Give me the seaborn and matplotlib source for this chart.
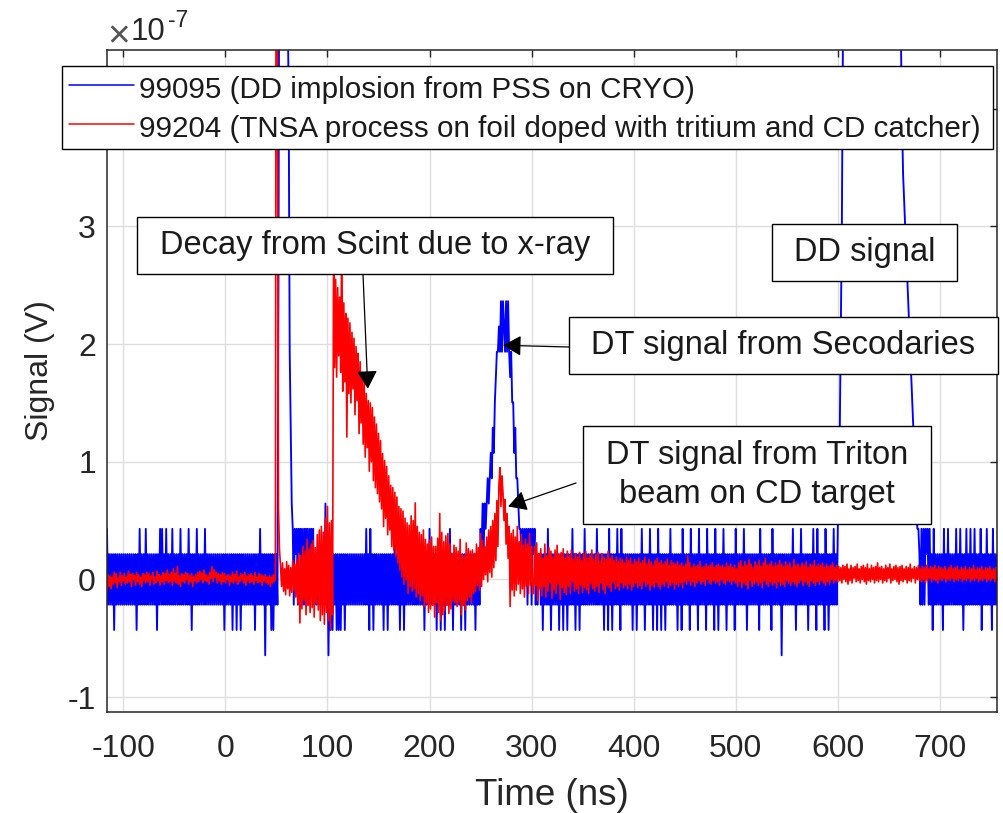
import numpy as np
import pandas as pd
import matplotlib
matplotlib.use("Agg")
import matplotlib.pyplot as plt
import seaborn as sns
from matplotlib.patches import Rectangle
from matplotlib.ticker import FuncFormatter, MultipleLocator

# ---------------------------------------------------------------------------
# Scope records, sampled every 1 ns
# ---------------------------------------------------------------------------
DT_NS = 1.0

# Shot 99095 (DD implosion, PSS on CRYO): raw digitizer counts
BLUE_VOLTS_PER_COUNT = 2.15e-8
blue_starts = [-116, 50, 120, 240, 308, 600, 682]
blue_pre = [2, -1, 1, -1, 1, -1, 1, -2, 1, -1, 1, -1, 1, -1, 1, -1, 1, -1, 1, -1,
            1, -1, 1, -1, 1, -1, 1, -1, 1, -2, 1, -1, 2, -1, 1, -1, 1, -1, 2, -1,
            1, -1, 1, -1, 1, -1, 1, -1, 1, -2, 1, -1, 2, -1, 2, -1, 1, -1, 2, -1,
            1, -1, 1, -1, 2, -1, 1, -1, 1, -1, 1, -1, 2, -1, 1, -1, 1, -1, 1, -1,
            2, -1, 1, -2, 1, -1, 1, -1, 2, -1, 1, -1, 1, -1, 1, -1, 2, -1, 1, -1,
            1, -1, 1, -1, 1, -1, 1, -1, 1, -1, 1, -1, 1, -1, 1, -2, 1, -1, 1, -1,
            1, -1, 1, -2, 1, -1, 1, -2, 1, -1, 1, -2, 1, -1, 1, -1, 1, -1, 1, -1,
            1, -1, 1, -1, 1, -2, 1, -1, 1, -1, 2, -1, 1, -1, 1, -3, 1, -1, 1, -1,
            1, -2, 1, -2, 1, -1]
blue_burst = [1, -1, 12, 30, 32, 33, 33, 32, 31, 29, 28, 23, 19, 9, 6, 3, 2, -1, 2, 1,
              2, -1, 2, 1, 2, -1, 2, -1, 2, 1, 2, -1, 2, -1, 2, 1, 2, -1, 1, -1,
              1, -1, 1, -1, 1, -1, 1, -1, 3, -1, 1, -3, 1, -2, 1, -2, 1, -1, 1, -2,
              1, -2, 1, -2, 1, -1, 1, -2, 1, -1]
blue_quiet = [1, -1, 1, -1, 1, -1, 1, -1, 1, -1, 1, -1, 1, -1, 1, -1, 1, -1, 2, -1,
              1, -2, 2, -1, 1, -2, 1, -1, 1, -1, 1, -1, 1, -1, 1, -2, 1, -1, 1, -2,
              1, -1, 1, -1, 1, -1, 2, -1, 1, -1, 1, -2, 1, -1, 1, -2, 1, -1, 1, -1,
              1, -1, 1, -1, 1, -1, 2, -1, 1, -1, 1, -1, 1, -1, 1, -2, 1, -1, 1, -1,
              2, -1, 1, -1, 1, -1, 1, -2, 1, -1, 1, -2, 1, -1, 1, -2, 1, -1, 1, -1,
              2, -1, 1, -2, 1, -1, 1, -1, 1, -1, 1, -2, 1, -1, 1, -2, 1, -1, 1, -1]
blue_dt = [1, -1, 1, -1, 1, -2, 1, -1, 1, -1, 2, 1, 3, 1, 3, 2, 3, 4, 3, 4,
           5, 4, 6, 5, 7, 8, 9, 9, 10, 9, 11, 9, 11, 10, 9, 11, 9, 11, 9, 8,
           9, 7, 7, 5, 6, 4, 4, 3, 2, 2, 1, 2, 1, 2, 1, 2, -1, 2, 1, 2,
           -1, 2, 1, 2, -1, 1, -1, 1]
blue_mid = [1, -1, 1, -2, 1, -1, 1, -1, 2, -1, 1, -2, 1, -1, 1, -1, 1, -1, 1, -2,
            1, -1, 1, -2, 1, -1, 1, -2, 1, -1, 1, -1, 2, -1, 1, -2, 1, -1, 1, -2,
            1, -1, 1, -1, 2, -1, 1, -1, 1, -1, 1, -1, 1, -1, 1, -1, 2, -1, 1, -1,
            1, -1, 1, -2, 1, -1, 1, -2, 2, -1, 1, -2, 1, -1, 1, -1, 2, -1, 1, -2,
            2, -1, 1, -1, 1, -1, 1, -1, 1, -1, 1, -2, 1, -1, 1, -2, 1, -1, 1, -1,
            2, -1, 1, -2, 1, -1, 1, -1, 2, -1, 1, -2, 1, -1, 1, -2, 2, -1, 1, -2,
            1, -1, 1, -2, 1, -1, 1, -1, 2, -1, 1, -1, 1, -1, 1, -2, 1, -1, 1, -2,
            2, -1, 1, -1, 1, -1, 1, -2, 2, -1, 1, -1, 1, -1, 1, -2, 2, -1, 1, -1,
            1, -1, 1, -2, 2, -1, 1, -1, 1, -1, 1, -2, 2, -1, 1, -2, 1, -1, 1, -1,
            2, -1, 1, -2, 1, -1, 1, -1, 1, -1, 1, -2, 2, -1, 1, -1, 1, -1, 1, -1,
            2, -1, 1, -2, 1, -1, 1, -1, 1, -1, 1, -1, 1, -1, 1, -2, 2, -1, 1, -1,
            1, -1, 1, -1, 1, -1, 1, -2, 2, -1, 1, -1, 1, -1, 1, -1, 1, -3, 1, -1,
            1, -1, 1, -1, 1, -1, 1, -1, 2, -1, 1, -2, 1, -1, 1, -1, 2, -1, 1, -1,
            1, -1, 1, -2, 1, -1, 1, -1, 2, -1, 1, -2, 2, -1, 1, -1, 1, -1, 1, -2,
            2, -1, 1, -2, 1, -1, 1, -1, 2, -1, 1, -1]
blue_dd = [2, 4, 6, 10, 14, 21, 28, 36, 44, 51, 58, 64, 70, 75, 80, 84, 87, 90, 92, 94,
           95, 96, 96, 96, 95, 94, 93, 92, 90, 88, 86, 84, 81, 78, 75, 72, 69, 66, 62, 58,
           55, 52, 49, 46, 43, 40, 38, 36, 34, 32, 30, 29, 28, 27, 26, 25, 24, 24, 23, 23,
           22, 22, 21, 18, 16, 15, 14, 13, 12, 11, 10, 9, 8, 7, 6, 5, 4, 3, 2, 2,
           1, -1]
blue_tail = [2, -1, 2, -1, 2, 1, 2, -1, 2, -1, 1, -2, 2, -1, 1, -1, 1, -1, 1, -1,
             1, -2, 2, -1, 1, -1, 2, -1, 1, -1, 1, -1, 1, -1, 2, -1, 1, -1, 2, -1,
             1, -2, 1, -1, 2, -1, 1, -1, 2, -1, 1, -1, 2, -1, 1, -1, 1, -1, 2, -2,
             1, -1, 1, -1, 2, -1, 1, -1, 1, -2, 2, -1, 1, -1, 1]
blue_segments = [blue_pre, blue_burst, blue_quiet, blue_dt, blue_mid, blue_dd, blue_tail]

# Shot 99204 (TNSA, tritium-doped foil + CD catcher): signal in nV
RED_VOLTS_PER_UNIT = 1e-9
red_starts = [-116, 50, 106, 302]
red_pre = [-9, 4, -6, 3, -8, 2, -4, 6, -3, 5, -7, 1, -2, 6, -5, 3, -1, 5, -4, 2,
           -3, 7, -2, 4, -6, 5, 0, 3, -5, 6, -2, 4, -4, 2, -6, 5, -1, 4, -3, 6,
           -2, 5, -5, 3, 0, 6, -4, 2, -3, 7, -1, 4, -5, 3, -2, 6, -4, 5, -1, 8,
           -3, 4, -2, 6, -5, 9, -1, 5, -3, 11, -4, 3, -6, 5, -2, 4, -3, 6, 0, 5,
           -4, 3, -2, 5, -6, 2, -1, 4, -3, 6, -2, 7, 0, 5, -3, 8, -1, 4, -2, 3,
           -4, 6, 1, 11, -2, 8, 2, 6, -3, 5, -1, 4, -4, 6, -2, 5, -3, 3, 0, 4,
           -5, 3, -2, 6, -3, 4, -1, 7, -4, 2, -2, 5, 0, 4, -3, 6, -5, 3, -1, 4,
           -3, 5, -2, 3, -4, 6, -1, 2, -3, 5, -2, 4, -5, 3, -1, 4, -3, 2, -4, 3,
           -6, 2, -3, 4, -2, 1]
red_spike = [800, 420, 60, 25, 12, -6, 14, -10, 9, -13, 15, -8, 12, -14, 10, -11, 16, -9, 13, -15,
             17, -20, 22, -37, 20, -25, 28, -18, 24, -30, 34, -22, 26, -28, 30, -24, 33, -32, 27, -20,
             38, -26, 42, -35, 45, -30, 40, -38, 52, -28, 62, -35, 48, -42, 50, -30]
red_decay = [290, 180, 255, 172, 248, 190, 240, 176, 300, 160, 235, 168, 226, 121, 222, 158, 218, 150, 210, 162,
             205, 140, 198, 152, 192, 124, 185, 133, 176, 115, 168, 104, 158, 112, 152, 92, 150, 100, 146, 84,
             138, 78, 132, 73, 124, 66, 118, 60, 107, 45, 101, 52, 96, 38, 88, 42, 80, 28, 78, 25,
             74, 20, 70, 14, 62, 8, 60, 2, 58, -4, 52, 0, 48, -12, 46, -6, 54, -10, 50, -8,
             65, -15, 45, -12, 40, -18, 38, -14, 42, -23, 34, -20, 30, -28, 33, -25, 36, -22, 28, -32,
             28, -20, 35, -28, 56, -35, 40, -30, 32, -26, 37, -22, 39, -29, 30, -25, 22, -18, 29, -20,
             27, -23, 24, -19, 34, -30, 21, -22, 20, -26, 31, -18, 26, -15, 24, -20, 25, -12, 22, -10,
             30, -5, 27, -9, 39, -6, 33, 0, 28, 4, 36, -2, 42, 6, 45, 2, 50, 10, 56, 16,
             67, 28, 80, 95, 62, 88, 73, 50, 68, 30, 56, 18, 45, -23, 39, -9, 42, -14, 36, -9,
             45, -4, 32, -12, 38, -8, 29, -15, 34, -6, 30, -12, 39, -5, 28, -12]
red_tail = [-12, 28, -5, 31, -18, 22, -8, 26, -14, 18, -6, 30, -15, 20, -10, 27, -3, 24, -16, 19,
            -9, 25, -12, 29, -4, 21, -17, 23, -7, 26, -11, 18, -13, 24, -6, 20, -12, 25, -2, 17,
            -10, 22, -8, 19, -12, 23, -5, 16, -11, 21, -7, 24, -9, 18, -12, 20, -4, 25, -8, 17,
            -10, 21, -6, 23, -11, 15, -3, 22, -9, 19, -12, 17, -5, 24, -7, 18, -10, 20, -2, 16,
            -8, 19, -6, 15, -9, 18, -3, 17, -7, 14, -5, 19, -8, 16, -4, 18, -9, 13, -6, 17,
            -3, 15, -7, 18, -5, 14, -8, 16, -2, 19, -6, 13, -4, 17, -9, 15, -5, 12, -7, 16,
            -3, 18, -6, 14, -8, 16, -4, 13, -6, 15, -2, 17, -7, 12, -5, 16, -3, 14, -8, 13,
            -4, 15, -6, 12, -3, 14, -7, 11, -2, 13, -4, 20, -1, 14, -5, 10, -2, 13, -6, 11,
            -3, 12, -1, 15, -4, 10, -2, 11, -5, 13, 0, 11, -3, 12, -4, 14, -1, 10, -3, 12,
            -2, 13, -5, 11, 0, 12, -3, 10, -4, 14, -1, 11, -2, 13, -4, 10, -1, 12, -3, 9,
            -6, 14, -2, 16, -7, 11, -3, 15, -5, 12, -8, 17, -1, 13, -6, 10, -4, 15, -2, 12,
            -5, 16, -3, 11, -7, 14, -1, 18, -4, 12, -6, 13, -2, 15, -5, 11, -3, 14, -7, 12,
            -2, 16, -5, 13, -4, 11, -6, 15, -1, 12, -3, 14, -5, 10, -2, 17, -4, 12, -6, 13,
            -3, 11, -1, 14, -5, 12, -2, 15, -4, 10, -6, 13, -1, 12, -3, 16, -5, 11, -2, 13,
            -4, 12, -1, 14, -3, 10, -5, 13, -2, 11, -4, 12, 0, 14, -3, 10, -1, 12, -2, 11,
            -1, 10, -3, 12, 0, 11, -2, 13, -4, 9, -1, 12, -3, 10, 1, 11, -2, 13, -1, 9,
            -3, 11, 0, 12, -2, 10, -4, 13, -1, 9, -2, 12, 0, 10, -3, 11, -1, 14, -2, 10,
            0, 11, -3, 9, -1, 12, -2, 10, 1, 13, -3, 9, -1, 11, 0, 12, -2, 10, -4, 11,
            -1, 12, -2, 9, 0, 11, -3, 10, -1, 13, -2, 9, 1, 11, -3, 10, 0, 12, -1, 9,
            -2, 11, 0, 10, -3, 12, -1, 9, 1, 11, -2, 10, 0, 12, -1, 9, -3, 11, 0, 10,
            -1, 9, 1, 11, -2, 8, 0, 10, -1, 12, 1, 9, -2, 10, 0, 11, -1, 8, 1, 10,
            -2, 9, 0, 11, -1, 8, 1, 10, -2, 9, 0, 12, -1, 8, 1, 10, -2, 9, 0, 11,
            -1, 8, 1, 10, -2, 9, 0, 11, -1, 8, 1, 9, -2, 10, 0]
red_segments = [red_pre, red_spike, red_decay, red_tail]

series_labels = ["99095 (DD implosion from PSS on CRYO)",
                 "99204 (TNSA process on foil doped with tritium and CD catcher)"]
series_colors = ["#0000ff", "#ff0000"]


def assemble(starts, segments, volts_per_unit):
    t = np.concatenate([s + DT_NS * np.arange(len(seg)) for s, seg in zip(starts, segments)])
    v = np.concatenate([np.asarray(seg, dtype=float) for seg in segments]) * volts_per_unit
    return pd.DataFrame({"time": t, "signal": v})


blue_df = assemble(blue_starts, blue_segments, BLUE_VOLTS_PER_COUNT)
red_df = assemble(red_starts, red_segments, RED_VOLTS_PER_UNIT)

# ---------------------------------------------------------------------------
# Figure
# ---------------------------------------------------------------------------
sns.set_theme(style="white")
plt.rcParams["font.family"] = ["Liberation Sans", "DejaVu Sans"]
plt.rcParams["axes.unicode_minus"] = False

W, H = 1004, 813
fig = plt.figure(figsize=(W / 100, H / 100), dpi=100, facecolor="white")


def fx(px):
    return px / W


def fy(py):
    return 1 - py / H


ax = fig.add_axes([fx(107), fy(712), fx(997) - fx(107), fy(50) - fy(712)])

sns.lineplot(data=blue_df, x="time", y="signal", color=series_colors[0], lw=1.35,
             estimator=None, sort=False, label=series_labels[0], ax=ax)
sns.lineplot(data=red_df, x="time", y="signal", color=series_colors[1], lw=1.2,
             estimator=None, sort=False, label=series_labels[1], ax=ax)

Y_EXP = 1e-7
ax.set_xlim(-116, 756)
ax.set_ylim(-1.127e-7, 4.5e-7)
ax.xaxis.set_major_locator(MultipleLocator(100))
ax.yaxis.set_major_locator(MultipleLocator(Y_EXP))
ax.yaxis.set_major_formatter(FuncFormatter(lambda v, pos: f"{v / Y_EXP:g}"))

axis_gray = "#262626"
ax.grid(True, color="#dedede", lw=1.0)
ax.set_axisbelow(True)
for sp in ax.spines.values():
    sp.set_color(axis_gray)
    sp.set_linewidth(1.1)
ax.tick_params(direction="in", length=5, width=1, colors=axis_gray,
               top=True, right=True, labelsize=23)
ax.tick_params(axis="x", pad=16)
ax.tick_params(axis="y", pad=8)

# axis multiplier above the y axis
fig.text(fx(107), fy(47), "\u00d7", fontsize=28, color="#555555", va="baseline")
fig.text(fx(131), fy(40), "10", fontsize=22.5, color=axis_gray, va="baseline")
fig.text(fx(168), fy(27), "-7", fontsize=16.5, color=axis_gray, va="baseline")

ax.set_xlabel("Time (ns)", fontsize=26.5, color=axis_gray)
ax.set_ylabel("Signal (V)", fontsize=23, color=axis_gray)
ax.xaxis.set_label_coords(0.5, (712 - 778) / 662)
ax.yaxis.set_label_coords((55 - 107) / 890, (712 - 371) / 662)

leg = ax.legend(loc="upper left",
                bbox_to_anchor=(fx(62), fy(67), fx(993) - fx(62), 0.001),
                bbox_transform=fig.transFigure, mode="expand", borderaxespad=0,
                fontsize=21.3, frameon=True, fancybox=False, framealpha=1,
                edgecolor="black", borderpad=0.22, labelspacing=0.26,
                handlelength=2.2, handleheight=1.2, handletextpad=0.18)
leg.get_frame().set_linewidth(1.0)
for line in leg.get_lines():
    line.set_linewidth(1.1)
for txt in leg.get_texts():
    txt.set_color("#1a1a1a")
leg.set_zorder(20)

# ---------------------------------------------------------------------------
# Callout boxes with arrows
# ---------------------------------------------------------------------------
callouts = [
    # text, box (x0, y0, x1, y1) in pixels, arrow tail (px), arrow tip (ns, V)
    ("Decay from Scint due to x-ray", (137, 217, 613, 274), (363, 274), (139.5, 1.62e-7)),
    ("DD signal", (772, 224, 957, 281), None, None),
    ("DT signal from Secodaries", (569, 317, 998, 374), (569, 347), (272, 1.99e-7)),
    ("DT signal from Triton\nbeam on CD target", (583, 426, 931, 524), (576, 483), (277, 0.62e-7)),
]

for text, (x0, y0, x1, y1), tail, tip in callouts:
    rect = Rectangle((fx(x0), fy(y1)), fx(x1) - fx(x0), fy(y0) - fy(y1),
                     transform=fig.transFigure, facecolor="white",
                     edgecolor="black", lw=1.0, zorder=5)
    fig.add_artist(rect)
    fig.text(fx((x0 + x1) / 2), fy((y0 + y1) / 2), text, ha="center", va="center",
             multialignment="center", fontsize=23.5, color="#1a1a1a",
             linespacing=1.37, zorder=6)
    if tail is not None:
        ax.annotate("", xy=tip, xycoords="data",
                    xytext=(fx(tail[0]), fy(tail[1])), textcoords="figure fraction",
                    arrowprops=dict(arrowstyle="-|>,head_length=0.8,head_width=0.45",
                                    color="black", lw=0.9, shrinkA=0, shrinkB=0,
                                    mutation_scale=14),
                    zorder=8)

fig.savefig("out.png", dpi=100, facecolor="white")
